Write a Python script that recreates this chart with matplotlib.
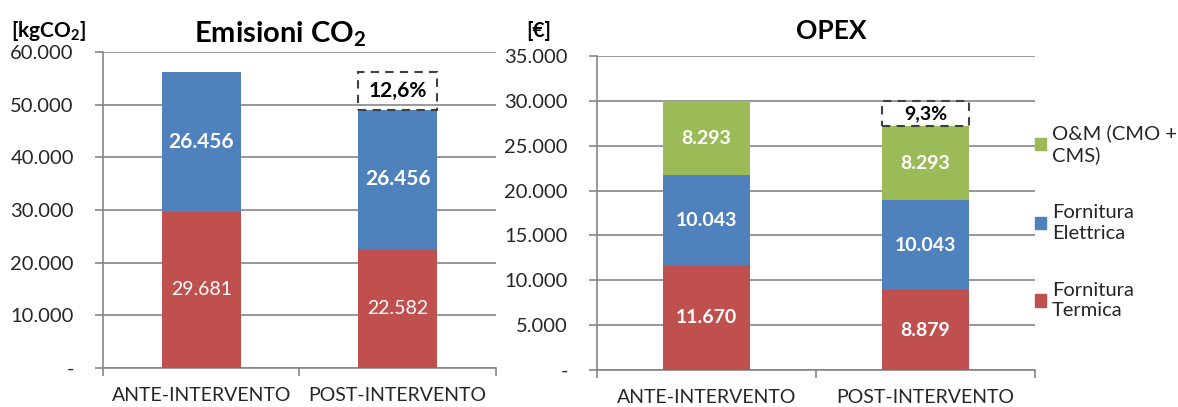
import matplotlib
matplotlib.use("Agg")
import matplotlib.pyplot as plt
from matplotlib.patches import Rectangle, Patch
from matplotlib.ticker import FuncFormatter, MultipleLocator

plt.rcParams['font.family'] = ['Lato', 'DejaVu Sans']
plt.rcParams['mathtext.fontset'] = 'custom'
plt.rcParams['mathtext.rm'] = 'Lato'
plt.rcParams['mathtext.bf'] = 'Lato:bold'

# dati
categorie = ["ANTE-INTERVENTO", "POST-INTERVENTO"]

co2_termica = [29681, 22582]
co2_elettrica = [26456, 26456]
co2_riduzione = "12,6%"

opex_termica = [11670, 8879]
opex_elettrica = [10043, 10043]
opex_om = [8293, 8293]
opex_riduzione = "9,3%"

ROSSO = "#C0504D"
BLU = "#4F81BD"
VERDE = "#9BBB59"
GRIGIO = "#868686"
TESTO = "#262626"


def fmt_migliaia(v, pos=None):
    if v == 0:
        return "-"
    return f"{v:,.0f}".replace(",", ".")


def stile_assi(ax, ymax, passo):
    ax.set_xlim(0, 2)
    ax.set_ylim(0, ymax)
    ax.yaxis.set_major_locator(MultipleLocator(passo))
    ax.yaxis.set_major_formatter(FuncFormatter(fmt_migliaia))
    ax.grid(axis="y", color=GRIGIO, lw=1.2)
    ax.set_axisbelow(True)
    for s in ["top", "right"]:
        ax.spines[s].set_visible(False)
    for s in ["left", "bottom"]:
        ax.spines[s].set_color(GRIGIO)
        ax.spines[s].set_linewidth(1.2)
    ax.tick_params(axis="y", length=6, color=GRIGIO, width=1.2, labelsize=14.5,
                   labelcolor=TESTO, pad=15)
    # tacche tra le categorie
    ax.set_xticks([0, 1, 2])
    ax.set_xticklabels([])
    ax.set_xticks([0.5, 1.5], minor=True)
    ax.set_xticklabels(categorie, minor=True)
    ax.tick_params(axis="x", which="major", length=6, color=GRIGIO, width=1.2)
    ax.tick_params(axis="x", which="minor", length=0, labelsize=14,
                   labelcolor=TESTO, pad=14)


def riquadro(ax, x, y0, y1, w, testo, size):
    ax.add_patch(Rectangle((x - w / 2, y1), w, y0 - y1, fill=False,
                           ls=(0, (4, 3)), lw=1.5, ec="#404040", zorder=4))
    ax.text(x, (y0 + y1) / 2, testo, ha="center", va="center",
            fontsize=size, fontweight="bold", color="black", zorder=5)


fig = plt.figure(figsize=(11.78, 4.07), dpi=100)
x = [0.5, 1.5]
w = 0.4

# --- Emissioni CO2 ---
ax1 = fig.add_axes([0.0874, 0.0958, 0.3336, 0.7764])
stile_assi(ax1, 60000, 10000)
ax1.bar(x, co2_termica, w, color=ROSSO, zorder=3)
ax1.bar(x, co2_elettrica, w, bottom=co2_termica, color=BLU, zorder=3)
for i in range(2):
    ax1.text(x[i], co2_termica[i] / 2, fmt_migliaia(co2_termica[i]),
             ha="center", va="center", color="white", fontsize=14)
    ax1.text(x[i], co2_termica[i] + co2_elettrica[i] / 2,
             fmt_migliaia(co2_elettrica[i]), ha="center", va="center",
             color="white", fontsize=15, fontweight="bold")
tot1 = [a + b for a, b in zip(co2_termica, co2_elettrica)]
riquadro(ax1, x[1], tot1[0], tot1[1], w, co2_riduzione, 15)

fig.text(0.238, 0.915, r"Emisioni CO$_{\mathbf{2}}$", ha="center", va="center",
         fontsize=21, fontweight="bold")
fig.text(0.009, 0.925, r"[kgCO$_{\mathbf{2}}$]", ha="left", va="center",
         fontsize=15, fontweight="bold")

# --- OPEX ---
ax2 = fig.add_axes([0.5068, 0.0909, 0.3718, 0.7715])
stile_assi(ax2, 35000, 5000)
b2 = [t + e for t, e in zip(opex_termica, opex_elettrica)]
ax2.bar(x, opex_termica, w, color=ROSSO, zorder=3)
ax2.bar(x, opex_elettrica, w, bottom=opex_termica, color=BLU, zorder=3)
ax2.bar(x, opex_om, w, bottom=b2, color=VERDE, zorder=3)
for i in range(2):
    ax2.text(x[i], opex_termica[i] / 2, fmt_migliaia(opex_termica[i]),
             ha="center", va="center", color="white", fontsize=14, fontweight="bold")
    ax2.text(x[i], opex_termica[i] + opex_elettrica[i] / 2,
             fmt_migliaia(opex_elettrica[i]), ha="center", va="center",
             color="white", fontsize=14, fontweight="bold")
    ax2.text(x[i], b2[i] + opex_om[i] / 2, fmt_migliaia(opex_om[i]),
             ha="center", va="center", color="white", fontsize=14, fontweight="bold")
tot2 = [a + b for a, b in zip(b2, opex_om)]
riquadro(ax2, x[1], tot2[0], tot2[1], w, opex_riduzione, 14)

fig.text(0.706, 0.925, "OPEX", ha="center", va="center",
         fontsize=19, fontweight="bold")
fig.text(0.447, 0.925, "[€]", ha="left", va="center",
         fontsize=15, fontweight="bold")

handles = [Patch(color=VERDE), Patch(color=BLU), Patch(color=ROSSO)]
labels = ["O&M (CMO +\nCMS)", "Fornitura\nElettrica", "Fornitura\nTermica"]
leg = fig.legend(handles, labels, loc="center left", bbox_to_anchor=(0.868, 0.455),
                 frameon=False, fontsize=14.5, handlelength=0.55, handleheight=0.55,
                 handletextpad=0.3, labelspacing=2.0, labelcolor=TESTO,
                 borderaxespad=0.2)
for t in leg.get_texts():
    t.set_linespacing(1.25)

fig.savefig("out.png", dpi=100)
